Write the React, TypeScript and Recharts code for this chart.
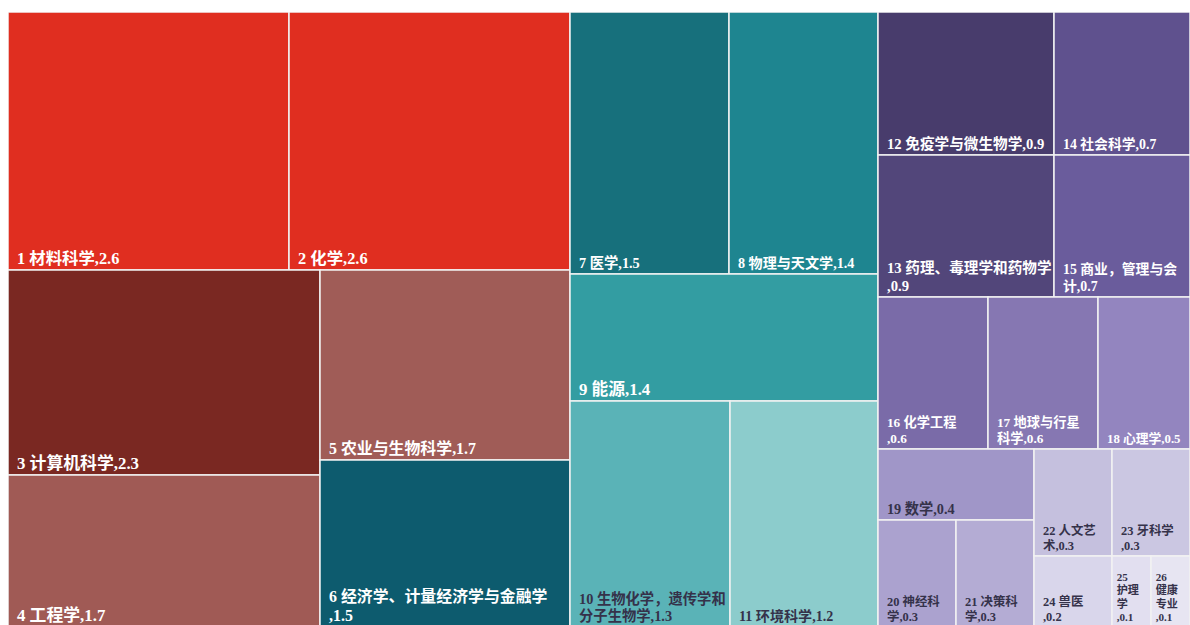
import { Treemap } from 'recharts';

// subject names; "\n" marks where the label wraps in the cell
const names = [
  '材料科学',
  '化学',
  '计算机科学',
  '工程学',
  '农业与生物科学',
  '经济学、计量经济学与金融学\n',
  '医学',
  '物理与天文学',
  '能源',
  '生物化学，遗传学和\n分子生物学',
  '环境科学',
  '免疫学与微生物学',
  '药理、毒理学和药物学\n',
  '社会科学',
  '商业，管理与会\n计',
  '化学工程\n',
  '地球与行星\n科学',
  '心理学',
  '数学',
  '神经科\n学',
  '决策科\n学',
  '人文艺\n术',
  '牙科学\n',
  '兽医\n',
  '\n护理\n学\n',
  '\n健康\n专业\n',
];

const values = [
  2.6, 2.6, 2.3, 1.7, 1.7, 1.5, 1.5, 1.4, 1.4, 1.3, 1.2, 0.9, 0.9,
  0.7, 0.7, 0.6, 0.6, 0.5, 0.4, 0.3, 0.3, 0.3, 0.3, 0.2, 0.1, 0.1,
];

const colors = [
  '#e02e20', '#e02e20', '#7a2822', '#a05a55', '#a05c57', '#0d5b6e',
  '#17707c', '#1e8590', '#339da2', '#5ab3b7', '#8ccccc',
  '#483c6c', '#52467a', '#5f518e', '#6a5c9c', '#7a6ba8', '#8677b2',
  '#9385bf', '#a096c8', '#aba2cf', '#b4acd4', '#c5c0de', '#cbc7e2',
  '#d9d6eb', '#e2dff0', '#e7e5f2',
];

// how the subjects (0-based) are blocked together in the treemap
type Group = number | Group[];
const groups: Group[] = [
  [
    [0, 1, [2, 3], [4, 5]],
    [6, 7, 8, [9, 10]],
  ],
  [
    [[11, 12], [13, 14]],
    [15, 16, 17],
    [[18, [19, 20]], [[21, 22], [23, 24, 25]]],
  ],
];

const build = (g: Group): any =>
  typeof g === 'number'
    ? {
        name: names[g].replace(/\n/g, ''),
        label: `${g + 1} ${names[g]},${values[g].toFixed(1)}`,
        value: values[g],
        fill: colors[g],
      }
    : { children: g.map(build) };

const data = groups.map(build);

const isLight = (hex: string) => {
  const n = parseInt(hex.slice(1), 16);
  const r = n >> 16;
  const g = (n >> 8) & 255;
  const b = n & 255;
  return 0.299 * r + 0.587 * g + 0.114 * b > 148;
};

const Cell = (props: any) => {
  const { x, y, width, height, fill, label } = props;
  if (!label) return null;
  const fs = Math.min(17, Math.max(10, 8 + Math.sqrt(width) * 0.5));
  const lh = fs * 1.2;
  const lines: string[] = label.split('\n');
  const tx = x + Math.min(9, width * 0.12);
  const by = y + height - 6;
  return (
    <g>
      <rect x={x} y={y} width={width} height={height} fill={fill} stroke="#f2f2f2" strokeWidth={1.5} />
      <text
        fill={isLight(fill) ? '#35324a' : '#ffffff'}
        fontSize={fs}
        fontWeight="bold"
        fontFamily="'Liberation Serif', 'Noto Sans CJK SC', serif"
      >
        {lines.map((l, i) => (
          <tspan key={i} x={tx} y={by - (lines.length - 1 - i) * lh}>
            {l}
          </tspan>
        ))}
      </text>
    </g>
  );
};

export default function App() {
  return (
    <div style={{ padding: '12px 0 0 8px' }}>
      <style>{'html,body{margin:0;overflow:hidden}'}</style>
      <Treemap
        width={1182}
        height={615}
        data={data}
        dataKey="value"
        aspectRatio={1}
        isAnimationActive={false}
        content={(p: any) => <Cell {...p} />}
      />
    </div>
  );
}
